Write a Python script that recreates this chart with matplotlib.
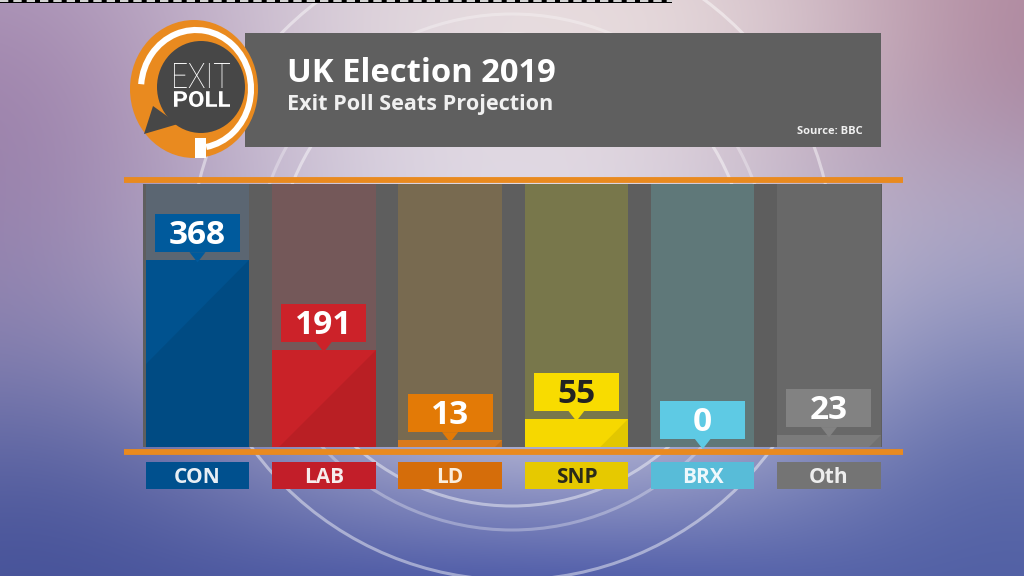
import numpy as np
import matplotlib
matplotlib.use('Agg')
import matplotlib.pyplot as plt
from matplotlib.patches import Rectangle, Polygon, Ellipse, Arc, PathPatch, Circle
from matplotlib.textpath import TextPath
from matplotlib.font_manager import FontProperties
from matplotlib.transforms import Affine2D
from matplotlib.colors import to_rgb

# ---------------- data ----------------
parties = ['CON', 'LAB', 'LD', 'SNP', 'BRX', 'Oth']
seats = [368, 191, 13, 55, 0, 23]
title = 'UK Election 2019'
subtitle = 'Exit Poll Seats Projection'
source = 'Source: BBC'
logo_top = 'EXIT'
logo_bottom = 'POLL'

bar_colors = ['#00528f', '#c92228', '#d97a1c', '#f6d800', '#5bc6e0', '#7b7b7b']
box_colors = ['#005a9c', '#cc2229', '#e37a06', '#f8dc00', '#5ecae4', '#828282']
track_colors = ['#5b6672', '#745859', '#786a50', '#78774b', '#5f7879', '#686868']
label_colors = ['#00508e', '#c21e29', '#d56d0a', '#e6c900', '#58bcd8', '#747474']
value_text_colors = ['white', 'white', 'white', '#222222', 'white', 'white']
label_text_colors = ['#e8eef4', '#f6ecec', '#fbeedd', '#2a2a1a', '#eef8fc', '#eeeeee']

FONT = 'Open Sans'
ORANGE = '#e98a1f'

W, H = 1024, 576
fig = plt.figure(figsize=(W / 100, H / 100), dpi=100)

# ---------------- background (pixel coordinates, y from top) ----------------
bg = fig.add_axes([0, 0, 1, 1])
bg.set_xlim(0, W)
bg.set_ylim(H, 0)
bg.axis('off')

yy, xx = np.mgrid[0:H, 0:W].astype(float)
img = np.ones((H, W, 3)) * np.array(to_rgb('#dcd8e4'))


def blob(cx, cy, sx, sy, col, a):
    global img
    w = a * np.exp(-(((xx - cx) / sx) ** 2 + ((yy - cy) / sy) ** 2) / 2)[..., None]
    img = img * (1 - w) + np.array(to_rgb(col)) * w


blob(0, 140, 240, 230, '#9878a4', 0.9)
blob(1024, 60, 250, 190, '#a06a84', 0.85)
blob(600, 20, 220, 80, '#f2e4dc', 0.6)
blob(560, 290, 300, 190, '#f4f0f4', 0.55)
blob(1000, 300, 120, 120, '#e0dcea', 0.5)
blob(512, 650, 700, 130, '#3848a0', 0.97)
blob(0, 576, 240, 200, '#3f4c94', 0.8)
blob(1024, 540, 200, 220, '#4a5aa0', 0.8)
img = np.clip(img, 0, 1)
bg.imshow(img, extent=(0, W, H, 0), aspect='auto', zorder=0, interpolation='bilinear')

# faint globe rings
for (cx, cy, r, a) in [(512, 270, 236, 0.45), (512, 258, 322, 0.45), (512, 272, 258, 0.3)]:
    bg.add_patch(Circle((cx, cy), r, fill=False, ec='white', lw=2.2, alpha=a, zorder=1))

# VBI strip at top
bg.add_patch(Rectangle((0, 0), 672, 3, fc='black', ec='none', zorder=2))
bg.plot([0, 672], [1.2, 1.2], color='white', lw=1.2, dashes=(5, 3), zorder=3)

# header panel
bg.add_patch(Rectangle((245, 33), 881 - 245, 147 - 33, fc='#5f5f5f', ec='none', zorder=4))
bg.text(287, 82, title, fontsize=23.6, fontweight='bold', family=FONT, color='white',
        va='baseline', ha='left', zorder=5)
bg.text(287, 110, subtitle, fontsize=15.6, fontweight='bold', family=FONT, color='#f0f0f0',
        va='baseline', ha='left', zorder=5)
bg.text(863, 134, source, fontsize=8, fontweight='bold', family=FONT, color='#f0f0f0',
        va='baseline', ha='right', zorder=5)

# logo
bg.add_patch(Ellipse((194, 89), 128, 138, fc=ORANGE, ec='none', zorder=6))
bg.add_patch(Arc((196, 89), 110, 118, theta1=-175, theta2=80, ec='white', lw=4.4, zorder=7))
bg.add_patch(Rectangle((195, 138), 11, 20, fc='white', ec='none', zorder=7))
bg.add_patch(Ellipse((201, 87), 88, 92, fc='#474747', ec='none', zorder=8))
bg.add_patch(Polygon([(153, 106), (144, 134), (178, 124)], closed=True, fc='#474747',
                     ec='none', zorder=8))


def fit_text(ax, s, x0, y0, x1, y1, prop, color, z):
    tp = TextPath((0, 0), s, size=100, prop=prop)
    bb = tp.get_extents()
    sx = (x1 - x0) / bb.width
    sy = (y1 - y0) / bb.height
    tr = Affine2D().translate(-bb.x0, -bb.y0).scale(sx, -sy).translate(x0, y1)
    ax.add_patch(PathPatch(tr.transform_path(tp), fc=color, ec='none', zorder=z))


fit_text(bg, logo_top, 174, 63, 230, 88, FontProperties(family='Roboto', weight='light'), 'white', 9)
fit_text(bg, logo_bottom, 174, 91, 230, 107, FontProperties(family='Roboto', weight='bold'), 'white', 9)

# ---------------- main chart ----------------
ax = fig.add_axes([124 / W, (H - 447) / H, (903 - 124) / W, (447 - 184) / H])
ax.patch.set_alpha(0)
XLEFT, XRIGHT = -0.582, 5.586
PXX = 1 / 126.3          # data units per pixel, x
PXY = 1 / 0.507          # seats per pixel, y
YTOP = 263 * PXY
ax.set_xlim(XLEFT, XRIGHT)
ax.set_ylim(0, YTOP)
ax.axis('off')

x = np.arange(len(parties))
bw = 103.5 * PXX

ax.add_patch(Rectangle((-0.4315, 0), 5.42 + 0.4315, YTOP, fc='#5e5e5e', ec='none', zorder=1))
ax.bar(x, [YTOP] * len(x), width=bw, color=track_colors, zorder=2)
bars = ax.bar(x, seats, width=bw, color=bar_colors, zorder=3)

# diagonal darker shading on each bar
for b in bars:
    if b.get_height() <= 0:
        continue
    l, w, t = b.get_x(), b.get_width(), b.get_height()
    poly = Polygon([(l + w, t), (l + w, 0), (l, 0), (l, t - (w / PXX) * PXY)], closed=True,
                   fc='black', alpha=0.08, ec='none', zorder=4)
    ax.add_patch(poly)
    poly.set_clip_path(b)

# value boxes with pointers
box_w = 85 * PXX
for i, v in enumerate(seats):
    b0 = v + 8 * PXY
    b1 = b0 + 38 * PXY
    ax.add_patch(Rectangle((x[i] - box_w / 2, b0), box_w, b1 - b0, fc=box_colors[i],
                           ec='none', zorder=5))
    ax.add_patch(Polygon([(x[i] - 8 * PXX, b0 + 0.5), (x[i] + 8 * PXX, b0 + 0.5), (x[i], v - 2 * PXY)],
                         closed=True, fc=box_colors[i], ec='none', zorder=5, clip_on=False))
    ax.text(x[i], (b0 + b1) / 2 - 11 * PXY, str(v), ha='center', va='baseline', fontsize=24,
            fontweight='bold', family=FONT, color=value_text_colors[i], zorder=6)

# orange rules
ax.plot([XLEFT, XRIGHT], [-5 * PXY] * 2, color=ORANGE, lw=4.2, solid_capstyle='butt',
        clip_on=False, zorder=7)
ax.plot([XLEFT, XRIGHT], [YTOP + 4 * PXY] * 2, color=ORANGE, lw=4.2, solid_capstyle='butt',
        clip_on=False, zorder=7)

# category labels
for i, p in enumerate(parties):
    ax.add_patch(Rectangle((x[i] - bw / 2, -42 * PXY), bw, 27 * PXY, fc=label_colors[i],
                           ec='none', zorder=5, clip_on=False))
    ax.text(x[i], -36 * PXY, p, ha='center', va='baseline', fontsize=15, fontweight='bold',
            family=FONT, color=label_text_colors[i], zorder=6, clip_on=False)

fig.savefig('out.png', dpi=100)
